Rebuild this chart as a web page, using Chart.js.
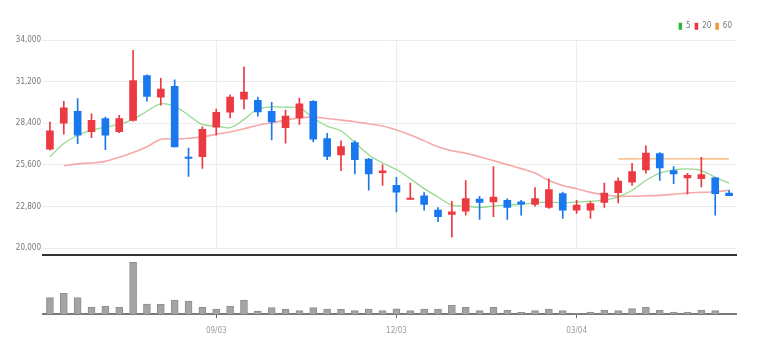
<!DOCTYPE html>
<html><head><meta charset="utf-8">
<script src="https://cdn.jsdelivr.net/npm/chart.js@4.4.1/dist/chart.umd.min.js"></script>
<style>
html,body{margin:0;padding:0;background:#fff;}
#wrap{position:relative;width:758px;height:354px;overflow:hidden;background:#fff;}
#c1{position:absolute;left:0;top:0;}
#c2{position:absolute;left:0;top:252px;}
</style></head><body>
<div id="wrap"><canvas id="c1" width="758" height="258"></canvas><canvas id="c2" width="758" height="102"></canvas></div>
<script>
const categories = ['2003-06-09','2003-06-16','2003-06-23','2003-06-30','2003-07-07','2003-07-14','2003-07-21','2003-07-28','2003-08-04','2003-08-11','2003-08-18','2003-08-25','2003-09-01','2003-09-08','2003-09-15','2003-09-22','2003-09-29','2003-10-06','2003-10-13','2003-10-20','2003-10-27','2003-11-03','2003-11-10','2003-11-17','2003-11-24','2003-12-01','2003-12-08','2003-12-15','2003-12-22','2003-12-29','2004-01-05','2004-01-12','2004-01-19','2004-01-26','2004-02-02','2004-02-09','2004-02-16','2004-02-23','2004-03-01','2004-03-08','2004-03-15','2004-03-22','2004-03-29','2004-04-05','2004-04-12','2004-04-19','2004-04-26','2004-05-03','2004-05-10','2004-05-17'];
const tickDates = ['2003-09-01','2003-12-01','2004-03-01'];
const tickLabels = ['09/03','12/03','03/04'];
const opens  = [26670,28420,29220,27840,28730,27840,28600,31620,30170,30890,26100,26150,28150,29150,30040,29950,29220,28110,28770,29890,27370,26270,27110,26000,25070,24220,23270,23510,22550,22270,22490,23290,23110,23220,23110,22930,22730,23670,22550,22550,23070,23730,24440,25270,26370,25220,24730,24670,24730,23710];
const highs  = [28490,29890,30070,29040,28820,28950,33330,31670,31440,31330,26730,28170,29370,30330,32220,30170,29820,29290,30110,29930,27730,27220,27220,26040,25600,24770,24370,23730,22730,23150,24550,23490,25490,23310,23220,24070,24670,23770,23220,23110,24370,24730,25710,26890,26440,25490,25040,26110,24770,23890];
const lows   = [26600,27670,27040,27440,26620,27770,28550,29890,29620,26820,24820,25370,27600,28770,29370,28890,27290,27070,28330,27150,25950,25220,25000,23890,24220,22440,23270,22550,21770,20730,22220,21930,22110,21930,22220,22820,22670,22000,22330,22000,22730,23040,24220,25040,24550,24330,23620,24110,22220,23530];
const closes = [27890,29440,27600,28600,27600,28730,31290,30220,30710,26820,26030,28000,29150,30170,30510,29170,28490,28890,29710,27330,26170,26840,25950,25000,25200,23770,23370,22930,22110,22440,23330,23070,23440,22730,22950,23330,23930,22550,22890,23000,23710,24510,25150,26400,25400,25000,24890,24950,23670,23530];
const ma5  = [26150,27040,27600,27930,28150,28330,28670,29220,29710,29550,28950,28330,28220,28110,28670,29370,29510,29490,29440,28770,28220,27890,27110,26290,25730,25290,24670,24000,23440,22890,22820,22730,22820,22890,22950,23040,23110,23040,23110,23150,23220,23440,23890,24550,25040,25270,25330,25220,24770,24370];
const ma20 = [null,25550,25670,25730,25840,26110,26440,26820,27330,27330,27400,27490,27670,27820,28040,28270,28440,28620,28770,28820,28730,28620,28510,28370,28220,27950,27620,27220,26820,26550,26390,26150,25890,25620,25350,25050,24550,24220,24000,23750,23590,23490,23490,23520,23550,23620,23710,23750,23790,23890];
const ma60 = [null,null,null,null,null,null,null,null,null,null,null,null,null,null,null,null,null,null,null,null,null,null,null,null,null,null,null,null,null,null,null,null,null,null,null,null,null,null,null,null,null,26000,26010,26020,26020,26020,26020,26010,26010,26000];
const volumes = [489000,621000,489000,201000,240000,201000,1551000,300000,300000,420000,390000,201000,150000,240000,420000,90000,189000,150000,99000,189000,150000,141000,99000,150000,105000,156000,99000,150000,150000,261000,201000,99000,201000,111000,51000,99000,150000,99000,15000,60000,120000,99000,159000,201000,111000,60000,60000,120000,99000,0];
const yTicks = {min:20000, max:34000, step:2800};

const FONT = "'Liberation Sans Narrow','DejaVu Sans Condensed','Roboto Condensed','Liberation Sans',sans-serif";
const UP = '#ec3a42', DOWN = '#1a78ee';
const candleColors = opens.map((o,i)=> closes[i] >= o ? UP : DOWN);
const wicks = lows.map((l,i)=>[l, highs[i]]);
const bodies = opens.map((o,i)=>[o, closes[i]]);
const isTick = i => tickDates.indexOf(categories[i]) >= 0;
const tickText = i => { const k = tickDates.indexOf(categories[i]); return k >= 0 ? tickLabels[k] : ''; };
const legendColors = ['#2cb83c','#f0343e','#f5932f'];

new Chart(document.getElementById('c1'), {
  type: 'bar',
  data: {
    labels: categories,
    datasets: [
      {type:'line', label:'5', data: ma5, borderColor:'#95da8f', borderWidth:1.3, pointRadius:0, tension:0.35, order:5},
      {type:'line', label:'20', data: ma20, borderColor:'#f6a9a9', borderWidth:1.6, pointRadius:0, tension:0.35, order:5},
      {type:'line', label:'60', data: ma60, borderColor:'#fbc08c', borderWidth:1.6, pointRadius:0, tension:0.35, order:5},
      {type:'bar', label:'wick', data: wicks, backgroundColor: candleColors, barThickness:1, grouped:false, order:2},
      {type:'bar', label:'body', data: bodies, backgroundColor: candleColors, barThickness:7, grouped:false, minBarLength:1.5, order:1}
    ]
  },
  options: {
    responsive:false, animation:false,
    layout:{padding:{left:0,right:22,top:18.3,bottom:10}},
    plugins:{
      tooltip:{enabled:false},
      legend:{
        display:true, position:'top', align:'end',
        labels:{
          boxWidth:3.5, boxHeight:7, padding:4, color:'#777',
          font:{size:8, family:FONT},
          generateLabels: () => ['5','20','60'].map((t,i)=>({text:t, fillStyle:legendColors[i], strokeStyle:legendColors[i], lineWidth:0, hidden:false, datasetIndex:i, fontColor:'#777'}))
        }
      }
    },
    scales:{
      x:{
        display:true,
        ticks:{display:false, autoSkip:false},
        grid:{offset:false, drawTicks:false, color: c => isTick(c.index) ? '#ececec' : 'rgba(0,0,0,0)'},
        border:{display:false},
        afterFit(s){ s.height = 0; }
      },
      y:{
        min:yTicks.min, max:yTicks.max,
        ticks:{stepSize:yTicks.step, padding:2, color:'#777', font:{size:8, family:FONT}, callback: v => v.toLocaleString('en-US')},
        grid:{color:'#ececec', drawTicks:false},
        border:{display:false},
        afterFit(s){ s.width = 43; }
      }
    }
  }
});

new Chart(document.getElementById('c2'), {
  type:'bar',
  data:{ labels: categories, datasets:[{data: volumes, backgroundColor:'#a4a4a4', borderColor:'#8e8e8e', borderWidth:1, barThickness:7}] },
  options:{
    responsive:false, animation:false,
    layout:{padding:{left:43,right:22,top:3,bottom:0}},
    plugins:{legend:{display:false}, tooltip:{enabled:false}},
    scales:{
      x:{
        position:'bottom',
        grid:{display:true, drawOnChartArea:false, offset:false, tickLength:4, tickWidth:1, tickColor: c => isTick(c.index) ? '#666' : 'rgba(0,0,0,0)'},
        border:{display:true, color:'#7a7a7a', width:2},
        ticks:{autoSkip:false, maxRotation:0, padding:8, color:'#999', font:{size:8, family:FONT}, callback:(v,i)=>tickText(i)},
        afterFit(s){ s.height = 40; }
      },
      xTop:{
        type:'category', position:'top', axis:'x',
        grid:{display:false}, ticks:{display:false},
        border:{display:true, color:'#333', width:2},
        afterFit(s){ s.height = 0; }
      },
      y:{display:false, min:0, max:1770000}
    }
  }
});
</script>
</body></html>
